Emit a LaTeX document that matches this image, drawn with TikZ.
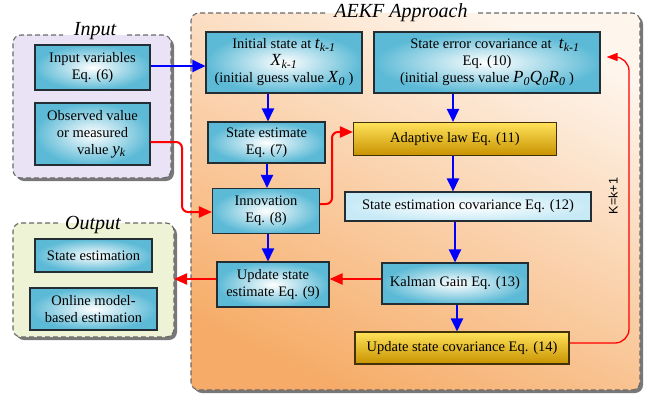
\documentclass[tikz,border=0pt]{standalone}
\usepackage{fontspec}
\setmainfont{Liberation Serif}
\newfontfamily\labelsans{Liberation Sans}
\usetikzlibrary{arrows.meta,calc}

% palette
\definecolor{boxblue}{RGB}{92,186,214}
\definecolor{boxline}{RGB}{35,45,52}
\definecolor{goldtop}{RGB}{255,226,90}
\definecolor{goldmid}{RGB}{246,196,16}
\definecolor{goldbot}{RGB}{200,146,0}
\definecolor{goldline}{RGB}{65,50,10}
\definecolor{palebox}{RGB}{200,234,246}
\definecolor{inputbg}{RGB}{234,227,245}
\definecolor{outputbg}{RGB}{238,243,214}
\definecolor{aekfbg}{RGB}{246,172,104}
\definecolor{aekftop}{RGB}{254,245,236}
\definecolor{groupline}{RGB}{105,105,105}
\definecolor{shadowgray}{RGB}{120,120,120}
\definecolor{arrowblue}{RGB}{0,0,255}
\definecolor{arrowred}{RGB}{255,0,0}

% italic variable with italic subscript
\newcommand{\ivar}[2]{\textit{#1}\textsubscript{\textit{#2}}}
\newcommand{\bigvar}[2]{{\fontsize{17}{17}\selectfont\ivar{#1}{#2}}}

\tikzset{
  basebox/.style={rectangle, inner sep=0pt, align=center,
    font=\fontsize{14.5}{17}\selectfont, line width=1.1pt},
  bluebox/.style={basebox, draw=boxline, inner color=white, outer color=boxblue},
  palebluebox/.style={basebox, draw=boxline, inner color=white, outer color=palebox},
  goldbox/.style={basebox, draw=goldline, top color=goldtop, middle color=goldmid, bottom color=goldbot},
  grouptitle/.style={font=\fontsize{20}{20}\selectfont\itshape, inner sep=0pt},
  groupborder/.style={draw=groupline, line width=1.1pt, dash pattern=on 5pt off 3pt},
  barrow/.style={draw=arrowblue, line width=2.4pt, -{Triangle[length=13pt,width=12pt]}},
  rarrow/.style={draw=arrowred, line width=2pt, rounded corners=6pt, -{Triangle[length=13pt,width=11pt]}},
  thinred/.style={draw=arrowred, line width=1.3pt, rounded corners=14pt, -{Triangle[length=11pt,width=8pt]}},
}

\begin{document}
\begin{tikzpicture}[x=1pt,y=-1pt]
\useasboundingbox (0,0) rectangle (647,394);

% ---- group panels ----
% Input
\fill[shadowgray, rounded corners=8pt] (16,38) rectangle (174,181);
\fill[inputbg, rounded corners=8pt] (13,35) rectangle (171,178);
\node[grouptitle] (inputT) at (95,31) {Input};
\draw[groupborder, rounded corners=8pt] (127,35) -| (171,178) -| (13,35) -- (63,35);

% Output
\fill[shadowgray, rounded corners=8pt] (16,226) rectangle (177,340);
\fill[outputbg, rounded corners=8pt] (13,223) rectangle (174,337);
\node[grouptitle] (outputT) at (93,225) {Output};
\draw[groupborder, rounded corners=8pt] (125,223) -| (174,337) -| (13,223) -- (61,223);
\coordinate (outedge) at (174,279);

% AEKF
\fill[shadowgray, rounded corners=8pt] (194,16) rectangle (643,393);
\shade[rounded corners=8pt, top color=aekftop, bottom color=aekfbg, shading angle=-25] (191,13) rectangle (640,390);
\node[grouptitle] (aekfT) at (401,13) {AEKF Approach};
\draw[groupborder, rounded corners=8pt] (478,13) -| (640,390) -| (191,13) -- (325,13);

% ---- boxes ----
\node[bluebox, minimum width=115pt, minimum height=45pt] (inv) at (92.5,67.5) {Input variables\\Eq. (6)};
\node[bluebox, minimum width=115pt, minimum height=62pt] (obs) at (92.5,134) {Observed value\\or measured\\\hspace*{18pt}value \bigvar{y}{k}};

\node[bluebox, minimum width=117pt, minimum height=33pt] (stest) at (93.5,255.5) {State estimation};
\node[bluebox, minimum width=127pt, minimum height=42pt] (online) at (93.5,309) {Online model-\\based estimation};

\node[bluebox, minimum width=156pt, minimum height=61pt] (init) at (284,62.5)
  {Initial state at \bigvar{t}{k-1}\\\bigvar{X}{k-1}\\(initial guess value \bigvar{X}{0} )};
\node[bluebox, minimum width=226pt, minimum height=61pt] (secov) at (487,62.5)
  {\hspace*{16pt}State error covariance at \ \bigvar{t}{k-1}\\Eq. (10)\\(initial guess value \bigvar{P}{0}\bigvar{Q}{0}\bigvar{R}{0} )};

\node[bluebox, minimum width=117pt, minimum height=41pt] (sest) at (266.5,142.5) {State estimate\\Eq. (7)};
\node[goldbox, minimum width=203pt, minimum height=33pt] (adapt) at (455,139) {Adaptive law Eq. (11)};

\node[bluebox, minimum width=107pt, minimum height=45pt] (innov) at (266,211) {Innovation\\Eq. (8)};
\node[palebluebox, minimum width=246pt, minimum height=29pt] (seccov) at (468,206.5) {State estimation covariance Eq. (12)};

\node[bluebox, minimum width=112pt, minimum height=45pt] (upd) at (273,284.5) {Update state\\estimate Eq. (9)};
\node[bluebox, minimum width=146pt, minimum height=41pt] (kal) at (455,283.5) {Kalman Gain Eq. (13)};

\node[goldbox, minimum width=214pt, minimum height=32pt] (ucov) at (462,348) {Update state covariance Eq. (14)};

\node[rotate=90, font=\labelsans\fontsize{12.5}{14}\selectfont, inner sep=0pt] (kk) at (613,196) {K=k+1};

% ---- blue flow ----
\draw[barrow] (inv.east |- 0,66) -- (init.west |- 0,66);
\draw[barrow] (268,0 |- init.south) -- (268,0 |- sest.north);
\draw[barrow] (267,0 |- sest.south) -- (267,0 |- innov.north);
\draw[barrow] (268,0 |- innov.south) -- (268,0 |- upd.north);
\draw[barrow] (453,0 |- secov.south) -- (453,0 |- adapt.north);
\draw[barrow] (453,0 |- adapt.south) -- (453,0 |- seccov.north);
\draw[barrow] (455,0 |- seccov.south) -- (455,0 |- kal.north);
\draw[barrow] (457,0 |- kal.south) -- (457,0 |- ucov.north);

% ---- red flow ----
\draw[rarrow] (obs.east |- 0,142) -| (182,212) -- (innov.west |- 0,212);
\draw[rarrow] (innov.east |- 0,204) -| (332,132) -- (adapt.west |- 0,132);
\draw[rarrow] (kal.west |- 0,279) -- (upd.east |- 0,279);
\draw[rarrow] (upd.west |- 0,279) -- (outedge);
\draw[thinred] (ucov.east |- 0,343) -| (629,57) -- ([xshift=6pt]secov.east |- 0,57);

\end{tikzpicture}
\end{document}
